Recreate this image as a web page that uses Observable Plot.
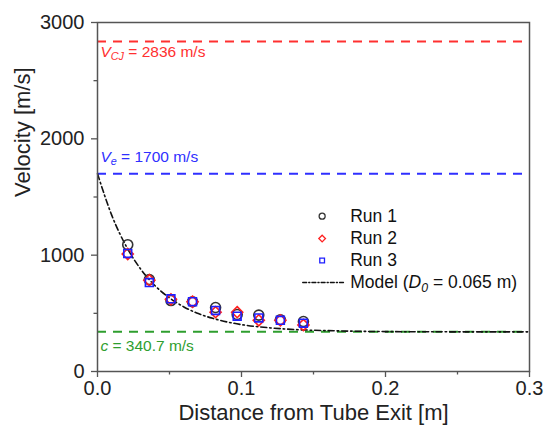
<!DOCTYPE html>
<html>
<head>
<meta charset="utf-8">
<script src="https://cdn.jsdelivr.net/npm/d3@7"></script>
<script src="https://cdn.jsdelivr.net/npm/@observablehq/plot@0.6"></script>
<style>
  html, body { margin: 0; padding: 0; background: #fff; }
  #chart { width: 547px; height: 438px; }
</style>
</head>
<body>
<div id="chart"></div>
<script>
// ---- Data ----
const distance = [0.021, 0.036, 0.051, 0.066, 0.082, 0.097, 0.112, 0.127, 0.143];
const run1 = [1090, 790, 610, 600, 550, 490, 485, 445, 430];
const run2 = [1010, 785, 620, 600, 510, 510, 440, 440, 400];
const run3 = [1015, 765, 625, 600, 525, 475, 460, 440, 415];

// model curve, points
const modelX = [0, 0.01, 0.02, 0.03, 0.04, 0.05, 0.06, 0.07, 0.08, 0.09, 0.10, 0.12, 0.14, 0.16, 0.18, 0.20, 0.25, 0.30];
const modelV = [1700, 1340, 1075, 880, 737, 633, 555, 498, 457, 426, 403, 375, 359, 351, 346, 343, 341, 341];

// reference velocities
const refNames = ["V_CJ = 2836 m/s", "V_e = 1700 m/s", "c = 340.7 m/s"];
const refValues = [2836, 1700, 340.7];
const refColors = ["#ff3030", "#2f2fff", "#2e9e2e"];
const refLabelV = [2750, 1845, 220];

const xTicks = [0, 0.1, 0.2, 0.3];
const xMinor = [0.05, 0.15, 0.25];
const yTicks = [0, 1000, 2000, 3000];
const yMinor = [500, 1500, 2500];

const seriesNames = ["Run 1", "Run 2", "Run 3", "Model (D_0 = 0.065 m)"];
const seriesColors = ["#333333", "#ff2020", "#1f1fff", "#111111"];
const seriesSymbols = ["circle", "diamond2", "square2"];

// ---- Build tables ----
const runs = [run1, run2, run3];
const points = [];
runs.forEach((r, k) => r.forEach((v, i) => points.push({run: seriesNames[k], k, x: distance[i], v})));
const model = modelX.map((x, i) => ({x, v: modelV[i]}));
const refs = refValues.map((v, i) => ({name: refNames[i], v, color: refColors[i], lv: refLabelV[i]}));

// legend layout (in data space)
const legX = 0.156, legTextX = 0.1755;
const legV = [1335, 1143, 954, 765];
const legendDots = [0, 1, 2].map(k => ({k, x: legX, v: legV[k]}));
const legendText = seriesNames.map((s, k) => ({s, x: legTextX, v: legV[k]}));
const legendLine = [{x: 0.1425, v: legV[3]}, {x: 0.172, v: legV[3]}];

const font = "'Liberation Sans', Arial, sans-serif";

const chart = Plot.plot({
  width: 547,
  height: 438,
  marginLeft: 97,
  marginRight: 18,
  marginTop: 22,
  marginBottom: 67,
  style: {fontFamily: font, background: "#fff", color: "#222"},
  x: {domain: [0, 0.3]},
  y: {domain: [0, 3000]},
  marks: [
    // reference lines
    Plot.ruleY(refs, {y: "v", x1: 0, x2: 0.3, stroke: "color", strokeWidth: 2, strokeDasharray: "9,7"}),
    Plot.text(refs, {x: 0.002, y: "lv", text: "name", fill: "color", textAnchor: "start", fontSize: 15.5}),
    // model
    Plot.line(model, {x: "x", y: "v", stroke: "#111", strokeWidth: 1.6, strokeDasharray: "6,3,1.5,3", curve: "monotone-x"}),
    // runs
    Plot.dot(points, {x: "x", y: "v", symbol: d => seriesSymbols[d.k], stroke: d => seriesColors[d.k], fill: "none", r: 5, strokeWidth: 1.6}),
    // legend
    Plot.dot(legendDots, {x: "x", y: "v", symbol: d => seriesSymbols[d.k], stroke: d => seriesColors[d.k], fill: "none", r: 3, strokeWidth: 1.3}),
    Plot.line(legendLine, {x: "x", y: "v", stroke: "#111", strokeWidth: 1.3, strokeDasharray: "4,2,1.2,2"}),
    Plot.text(legendText, {x: "x", y: "v", text: "s", textAnchor: "start", fontSize: 17.5, fill: "#111"}),
    // frame and axes
    Plot.frame({stroke: "#555", strokeWidth: 1.5}),
    Plot.axisX({ticks: xTicks, tickFormat: d3.format(".1f"), tickSize: 6, tickPadding: 3, fontSize: 20, label: null, stroke: "#555", strokeWidth: 1.3}),
    Plot.axisX({ticks: xMinor, tickFormat: () => "", tickSize: 3.5, label: null, stroke: "#555", strokeWidth: 1.3}),
    Plot.axisY({ticks: yTicks, tickFormat: d => String(d), tickSize: 6, tickPadding: 7, fontSize: 20, label: null, stroke: "#555", strokeWidth: 1.3}),
    Plot.axisY({ticks: yMinor, tickFormat: () => "", tickSize: 3.5, label: null, stroke: "#555", strokeWidth: 1.3}),
    // axis titles
    Plot.text(["Distance from Tube Exit [m]"], {frameAnchor: "bottom", dy: 48, text: d => d, fontSize: 22, fill: "#222"}),
    Plot.text(["Velocity [m/s]"], {frameAnchor: "left", dx: -75, rotate: -90, text: d => d, fontSize: 22, fill: "#222"})
  ]
});

// rich text: italic symbols and subscripts
function richify(svg) {
  svg.querySelectorAll("text").forEach(t => {
    const s = t.textContent;
    const m = s.match(/^(.*?)([A-Za-z])_([A-Za-z0-9]+)(.*)$/);
    if (m) {
      t.textContent = "";
      const add = (txt, attrs) => {
        const ts = document.createElementNS("http://www.w3.org/2000/svg", "tspan");
        ts.textContent = txt;
        for (const k in attrs) ts.setAttribute(k, attrs[k]);
        t.appendChild(ts);
      };
      if (m[1]) add(m[1], {});
      add(m[2], {"font-style": "italic"});
      add(m[3], {"font-style": "italic", "font-size": "0.7em", "dy": "0.3em"});
      add(m[4], {"dy": "-0.21em"});
    } else if (s.startsWith("c = ")) {
      t.textContent = "";
      const a = document.createElementNS("http://www.w3.org/2000/svg", "tspan");
      a.setAttribute("font-style", "italic"); a.textContent = "c";
      const b = document.createElementNS("http://www.w3.org/2000/svg", "tspan");
      b.textContent = s.slice(1);
      t.appendChild(a); t.appendChild(b);
    }
  });
}
richify(chart);
document.getElementById("chart").appendChild(chart);
</script>
</body>
</html>
